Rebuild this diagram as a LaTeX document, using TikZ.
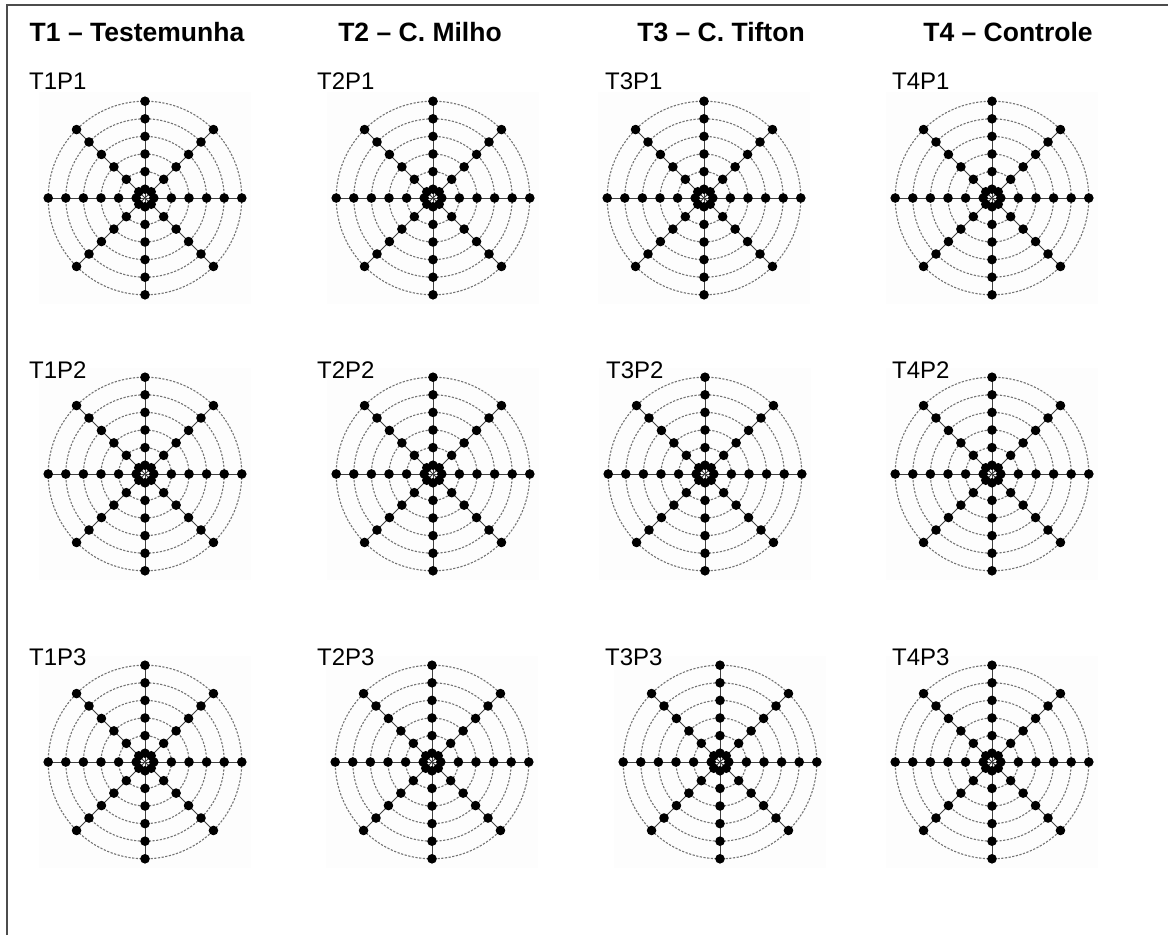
\documentclass[tikz,border=0pt]{standalone}
\usepackage{fontspec}
\setmainfont{Liberation Sans}
\begin{document}
\begin{tikzpicture}[x=1pt, y=-1pt,
  ring/.style={black!55, line width=1.1pt, dash pattern=on 2.2pt off 1.5pt},
  spoke/.style={black!75, line width=1pt},
  dot/.style={black},
  hdr/.style={font=\fontsize{26.5}{30}\selectfont\bfseries, anchor=base, inner sep=0pt},
  plabel/.style={font=\fontsize{24}{28}\selectfont, anchor=base west, inner sep=0pt}]
  \useasboundingbox (0,0) rectangle (1168,935);

  % frame, cut off at right and bottom
  \draw[black!70, line width=2pt] (7,935) -- (7,5) -- (1168,5);

  % treatment headers
  \node[hdr] (h1) at (137,41) {T1 -- Testemunha};
  \node[hdr] (h2) at (420,41) {T2 -- C. Milho};
  \node[hdr] (h3) at (721,41) {T3 -- C. Tifton};
  \node[hdr] (h4) at (1008,41) {T4 -- Controle};

  % plots: treatment/plot/centre x/centre y/label x/label y
  \foreach \t/\p/\cx/\cy/\lx/\ly in {
      1/1/145/198/29/89,  2/1/433/198/317/89,  3/1/704/198/605/89,  4/1/992/198/892/89,
      1/2/145/474/29/378, 2/2/433/474/317/378, 3/2/705/474/606/378, 4/2/992/474/892/378,
      1/3/145/762/29/665, 2/3/432/762/317/665, 3/3/720/762/605/665, 4/3/992/762/892/665}{
    \fill[black!0.6] (\cx-106,\cy-106) rectangle (\cx+106,\cy+106);
    \node[plabel] (t\t p\p) at (\lx,\ly) {T\t P\p};
    % rings
    \foreach \rr in {8.8,26.4,44,61.6,79.2,96.8}
      \draw[ring] (\cx,\cy) circle (\rr);
    % spokes
    \foreach \a in {0,45,90,135}
      \draw[spoke] ([shift={(\a:96.8)}]\cx,\cy) -- ([shift={(\a+180:96.8)}]\cx,\cy);
    % sampling points
    \foreach \a in {0,45,...,315}
      \foreach \rr in {8.8,26.4,44,61.6,79.2,96.8}
        \fill[dot] ([shift={(\a:\rr)}]\cx,\cy) circle (4.8);
  }
\end{tikzpicture}
\end{document}
